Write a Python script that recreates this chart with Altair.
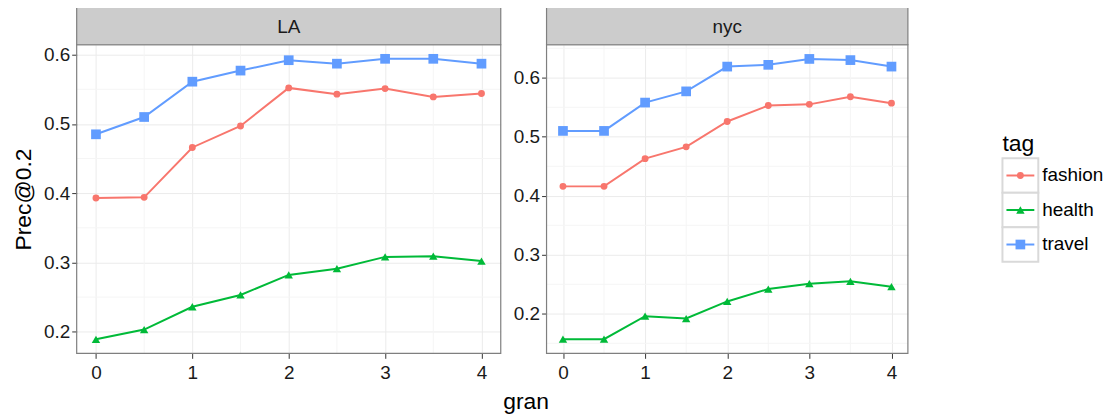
import altair as alt
import pandas as pd

FONT = "Liberation Sans"

GRAN = [0, 0.5, 1, 1.5, 2, 2.5, 3, 3.5, 4]
TAGS = ["fashion", "health", "travel"]

LA_FASHION = [0.393, 0.394, 0.466, 0.497, 0.552, 0.543, 0.551, 0.539, 0.544]
LA_HEALTH = [0.189, 0.203, 0.236, 0.253, 0.282, 0.291, 0.308, 0.309, 0.302]
LA_TRAVEL = [0.485, 0.510, 0.561, 0.577, 0.592, 0.587, 0.594, 0.594, 0.587]

NYC_FASHION = [0.416, 0.416, 0.463, 0.483, 0.526, 0.553, 0.555, 0.568, 0.557]
NYC_HEALTH = [0.157, 0.157, 0.196, 0.192, 0.221, 0.242, 0.251, 0.255, 0.246]
NYC_TRAVEL = [0.510, 0.510, 0.558, 0.577, 0.619, 0.622, 0.632, 0.630, 0.619]

X_TICKS = [0, 1, 2, 3, 4]
X_MINOR = [0.5, 1.5, 2.5, 3.5]
LA_Y_TICKS = [0.2, 0.3, 0.4, 0.5, 0.6]
LA_Y_MINOR = [0.25, 0.35, 0.45, 0.55]
NYC_Y_TICKS = [0.2, 0.3, 0.4, 0.5, 0.6]
NYC_Y_MINOR = [0.15, 0.25, 0.35, 0.45, 0.55, 0.65]

COLORS = ["#F8766D", "#00BA38", "#619CFF"]
SHAPES = ["circle", "triangle-up", "square"]
SIZES = [48, 95, 55]

MAJOR = "#EBEBEB"
MINOR = "#F5F5F5"
BORDER = "#7F7F7F"
STRIP = "#CCCCCC"

STRIP_H = 38
PANEL_H = 310


def long_df(series):
    rows = []
    for tag, vals in zip(TAGS, series):
        for g, v in zip(GRAN, vals):
            rows.append({"gran": g, "value": v, "tag": tag})
    return pd.DataFrame(rows)


cscale = alt.Scale(domain=TAGS, range=COLORS)
sscale = alt.Scale(domain=TAGS, range=SHAPES)
zscale = alt.Scale(domain=TAGS, range=SIZES)


def panel(city, df, ydomain, yticks, yminor, W, H, ytitle):
    xscale = alt.Scale(domain=[-0.2, 4.2], nice=False, zero=False)
    yscale = alt.Scale(domain=ydomain, nice=False, zero=False)
    xaxis = alt.Axis(values=X_TICKS, title=None, grid=True, gridColor=MAJOR, format="d")
    yaxis = alt.Axis(values=yticks, title=ytitle, grid=True, gridColor=MAJOR, format=".1f")

    minor_y = alt.Chart(pd.DataFrame({"v": yminor})).mark_rule(
        color=MINOR, strokeWidth=1
    ).encode(y=alt.Y("v:Q", scale=yscale, axis=yaxis))
    minor_x = alt.Chart(pd.DataFrame({"v": X_MINOR})).mark_rule(
        color=MINOR, strokeWidth=1
    ).encode(x=alt.X("v:Q", scale=xscale, axis=xaxis))

    enc = dict(
        x=alt.X("gran:Q", scale=xscale, axis=xaxis),
        y=alt.Y("value:Q", scale=yscale, axis=yaxis),
        color=alt.Color("tag:N", scale=cscale, legend=None),
    )
    lines = alt.Chart(df).mark_line(strokeWidth=2).encode(**enc)
    points = alt.Chart(df).mark_point(filled=True, opacity=1).encode(
        shape=alt.Shape("tag:N", scale=sscale, legend=None),
        size=alt.Size("tag:N", scale=zscale, legend=None),
        **enc,
    )

    one = pd.DataFrame({"city": [city]})
    border = alt.Chart(one).mark_rect(
        fill="transparent", stroke=BORDER, strokeWidth=1.2
    ).encode(x=alt.value(0), x2=alt.value(W), y=alt.value(0), y2=alt.value(H))
    strip = alt.Chart(one).mark_rect(
        fill=STRIP, stroke=BORDER, strokeWidth=1.2
    ).encode(x=alt.value(0), x2=alt.value(W), y=alt.value(-STRIP_H), y2=alt.value(0))
    strip_text = alt.Chart(one).mark_text(
        font=FONT, fontSize=19, color="#1a1a1a", baseline="middle", align="center"
    ).encode(text="city:N", x=alt.value(W / 2), y=alt.value(-STRIP_H / 2 + 1))

    return alt.layer(minor_y, minor_x, lines, points, border, strip, strip_text).properties(
        width=W, height=H
    )


la = panel("LA", long_df([LA_FASHION, LA_HEALTH, LA_TRAVEL]), [0.1687, 0.6143],
           LA_Y_TICKS, LA_Y_MINOR, 426, PANEL_H, "Prec@0.2")
nyc = panel("nyc", long_df([NYC_FASHION, NYC_HEALTH, NYC_TRAVEL]), [0.133, 0.656],
            NYC_Y_TICKS, NYC_Y_MINOR, 363, PANEL_H, None)

# legend drawn as its own small chart
leg_df = pd.DataFrame({"tag": TAGS})
yleg = alt.Y("tag:N", scale=alt.Scale(domain=TAGS, range=[114, 218], paddingInner=0, paddingOuter=0), axis=None)
boxes = alt.Chart(leg_df).mark_rect(fill="white", stroke="#D9D9D9", strokeWidth=2).encode(
    y=yleg, x=alt.value(0), x2=alt.value(36)
)
segs = alt.Chart(leg_df).mark_rule(strokeWidth=2).encode(
    y=yleg, x=alt.value(4), x2=alt.value(32), color=alt.Color("tag:N", scale=cscale, legend=None)
)
pts = alt.Chart(leg_df).mark_point(filled=True, opacity=1).encode(
    y=yleg, x=alt.value(18),
    color=alt.Color("tag:N", scale=cscale, legend=None),
    shape=alt.Shape("tag:N", scale=sscale, legend=None),
    size=alt.Size("tag:N", scale=zscale, legend=None),
)
labels = alt.Chart(leg_df).mark_text(
    font=FONT, fontSize=19, color="#000", align="left", baseline="middle"
).encode(y=yleg, x=alt.value(40), text="tag:N")
leg_title = alt.Chart(pd.DataFrame({"t": ["tag"]})).mark_text(
    font=FONT, fontSize=23, color="#000", align="left", baseline="alphabetic"
).encode(x=alt.value(0), y=alt.value(107), text="t:N")
spacer = alt.Chart(pd.DataFrame({"t": ["tag"]})).mark_rect(fill="transparent").encode(
    x=alt.value(0), x2=alt.value(1), y=alt.value(-STRIP_H), y2=alt.value(0)
)
legend = alt.layer(spacer, boxes, segs, pts, labels, leg_title).properties(width=36, height=PANEL_H)

chart = alt.hconcat(
    alt.hconcat(la, nyc, spacing=10),
    legend,
    spacing=91,
).properties(
    padding={"left": 4, "top": -4, "right": 0, "bottom": 0},
    title=alt.TitleParams(
        text="gran", orient="bottom", anchor="middle", fontSize=23, fontWeight="normal",
        font=FONT, color="#000", dx=-32, offset=8,
    ),
).configure_view(stroke="transparent").configure_axis(
    labelFont=FONT, labelFontSize=19, labelColor="#1a1a1a",
    tickColor="#333333", tickSize=5, tickWidth=1, domain=False,
    titleFont=FONT, titleFontSize=23, titleFontWeight="normal", titleColor="#000",
).configure_axisY(labelPadding=2, titlePadding=8).configure_axisX(labelPadding=5)

chart.save("out.html", embed_options={"renderer": "svg", "actions": False})
